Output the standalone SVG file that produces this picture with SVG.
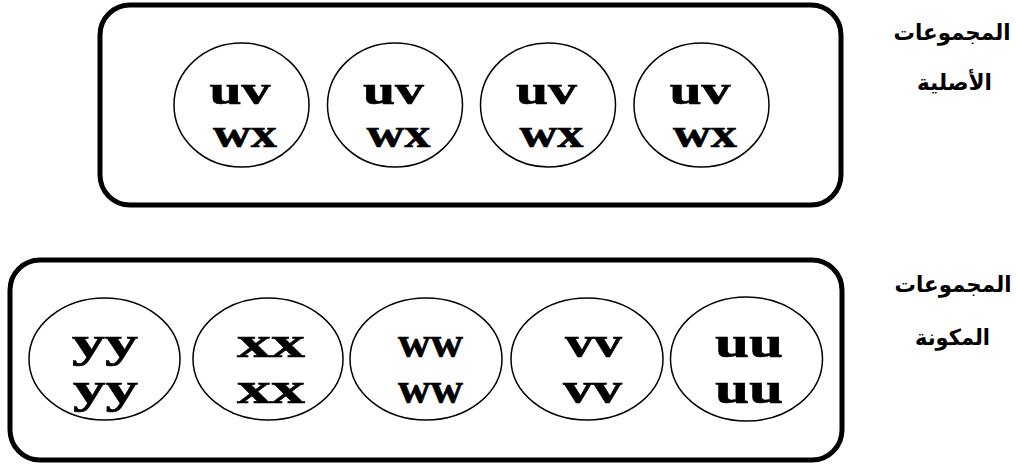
<svg xmlns="http://www.w3.org/2000/svg" width="1016" height="464" viewBox="0 0 1016 464">
<style>
.box{fill:#fff;stroke:#000;stroke-width:5}
.set{fill:#fff;stroke:#000;stroke-width:1.5}
.t1{font-family:"Liberation Serif","Times New Roman",serif;font-weight:bold;font-size:40px;text-anchor:middle;fill:#000;stroke:#000;stroke-width:0.6}
.t2{font-family:"Liberation Serif","Times New Roman",serif;font-weight:bold;font-size:44px;text-anchor:middle;fill:#000;stroke:#000;stroke-width:0.6}
.ar{font-family:"DejaVu Sans","Noto Sans",sans-serif;font-weight:bold;font-size:22px;text-anchor:middle;fill:#000}
</style>
<rect width="1016" height="464" fill="#fff"/>
<g id="connectors"/>
<g id="original-sets">
  <rect class="box" x="100" y="5" width="741" height="200" rx="30" ry="30"/>
</g>
<g id="o1"><ellipse class="set" cx="241.5" cy="105" rx="67.5" ry="62"/>
  <text class="t1" x="240" y="104" textLength="61" lengthAdjust="spacingAndGlyphs">uv</text>
  <text class="t1" x="245" y="147" textLength="64" lengthAdjust="spacingAndGlyphs">wx</text></g>
<g id="o2"><ellipse class="set" cx="395" cy="105" rx="67.5" ry="62"/>
  <text class="t1" x="393.5" y="104" textLength="61" lengthAdjust="spacingAndGlyphs">uv</text>
  <text class="t1" x="398.5" y="147" textLength="64" lengthAdjust="spacingAndGlyphs">wx</text></g>
<g id="o3"><ellipse class="set" cx="548" cy="105" rx="67.5" ry="62"/>
  <text class="t1" x="546.5" y="104" textLength="61" lengthAdjust="spacingAndGlyphs">uv</text>
  <text class="t1" x="551.5" y="147" textLength="64" lengthAdjust="spacingAndGlyphs">wx</text></g>
<g id="o4"><ellipse class="set" cx="701.5" cy="105" rx="67.5" ry="62"/>
  <text class="t1" x="700" y="104" textLength="61" lengthAdjust="spacingAndGlyphs">uv</text>
  <text class="t1" x="705" y="147" textLength="64" lengthAdjust="spacingAndGlyphs">wx</text></g>
<g id="label-original">
  <text class="ar" x="952" y="40" textLength="117" lengthAdjust="spacingAndGlyphs">المجموعات</text>
  <text class="ar" x="954.5" y="90" textLength="75" lengthAdjust="spacingAndGlyphs">الأصلية</text>
</g>
<g id="component-sets">
  <rect class="box" x="10" y="260" width="832" height="200" rx="30" ry="30"/>
</g>
<g id="c1"><ellipse class="set" cx="104.5" cy="359" rx="75.5" ry="61"/>
  <text class="t2" x="105" y="357" textLength="66" lengthAdjust="spacingAndGlyphs">yy</text>
  <text class="t2" x="105.5" y="403" textLength="65" lengthAdjust="spacingAndGlyphs">yy</text></g>
<g id="c2"><ellipse class="set" cx="268" cy="359" rx="75" ry="61"/>
  <text class="t2" x="271" y="357" textLength="68" lengthAdjust="spacingAndGlyphs">xx</text>
  <text class="t2" x="271" y="403" textLength="68" lengthAdjust="spacingAndGlyphs">xx</text></g>
<g id="c3"><ellipse class="set" cx="426" cy="359" rx="76" ry="61"/>
  <text class="t2" x="430.5" y="357" textLength="65" lengthAdjust="spacingAndGlyphs">ww</text>
  <text class="t2" x="430.5" y="403" textLength="65" lengthAdjust="spacingAndGlyphs">ww</text></g>
<g id="c4"><ellipse class="set" cx="587" cy="359" rx="76" ry="61"/>
  <text class="t2" x="593.5" y="357" textLength="57" lengthAdjust="spacingAndGlyphs">vv</text>
  <text class="t2" x="592.5" y="403" textLength="59" lengthAdjust="spacingAndGlyphs">vv</text></g>
<g id="c5"><ellipse class="set" cx="746.5" cy="359" rx="76" ry="62"/>
  <text class="t2" x="749" y="357" textLength="68" lengthAdjust="spacingAndGlyphs">uu</text>
  <text class="t2" x="749" y="403" textLength="68" lengthAdjust="spacingAndGlyphs">uu</text></g>
<g id="label-component">
  <text class="ar" x="953" y="292" textLength="117" lengthAdjust="spacingAndGlyphs">المجموعات</text>
  <text class="ar" x="952.5" y="345" textLength="75" lengthAdjust="spacingAndGlyphs">المكونة</text>
</g>
</svg>
